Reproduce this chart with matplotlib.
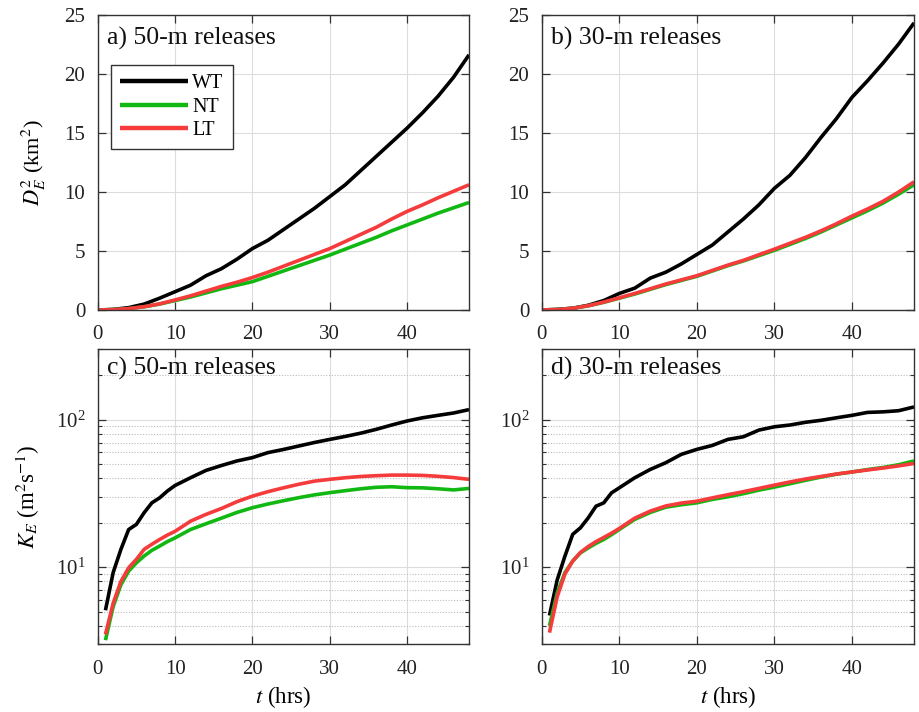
"""Relative dispersion and diffusivity for 50-m and 30-m releases."""

import matplotlib.pyplot as plt
from matplotlib.ticker import LogLocator, NullFormatter

plt.rcParams["font.family"] = ["Liberation Serif", "DejaVu Serif"]
plt.rcParams["mathtext.fontset"] = "stix"

# time axes (hrs)
t_disp = [0, 2, 4, 6, 8, 10, 12, 14, 16, 18, 20, 22, 24, 26, 28, 30, 32, 34, 36, 38, 40, 42, 44, 46, 48]
t_diff = [1, 2, 3, 4, 5, 6, 7, 8, 9, 10, 12, 14, 16, 18, 20, 22, 24, 26, 28, 30, 32, 34, 36, 38, 40, 42, 44, 46, 48]

# D_E^2 (km^2), 50-m releases
d50_wt = [0, 0.05, 0.2, 0.5, 1.0, 1.55, 2.1, 2.9, 3.5, 4.3, 5.2, 5.9, 6.8, 7.7, 8.6, 9.6, 10.6, 11.8, 13.0, 14.2, 15.4, 16.7, 18.1, 19.7, 21.6]
d50_nt = [0, 0.03, 0.12, 0.27, 0.5, 0.8, 1.1, 1.45, 1.8, 2.1, 2.4, 2.85, 3.3, 3.75, 4.2, 4.65, 5.15, 5.65, 6.15, 6.7, 7.2, 7.7, 8.2, 8.65, 9.1]
d50_lt = [0, 0.03, 0.12, 0.28, 0.52, 0.85, 1.2, 1.6, 2.0, 2.35, 2.75, 3.2, 3.7, 4.2, 4.7, 5.2, 5.8, 6.4, 7.0, 7.7, 8.35, 8.9, 9.5, 10.05, 10.6]

# D_E^2 (km^2), 30-m releases
d30_wt = [0, 0.05, 0.15, 0.4, 0.8, 1.4, 1.85, 2.7, 3.2, 3.9, 4.7, 5.5, 6.6, 7.7, 8.9, 10.3, 11.4, 12.9, 14.6, 16.2, 18.0, 19.4, 20.9, 22.5, 24.3]
d30_nt = [0, 0.04, 0.15, 0.35, 0.65, 1.0, 1.35, 1.75, 2.15, 2.5, 2.85, 3.3, 3.75, 4.15, 4.6, 5.05, 5.55, 6.05, 6.6, 7.2, 7.8, 8.4, 9.05, 9.8, 10.6]
d30_lt = [0, 0.04, 0.15, 0.36, 0.67, 1.03, 1.4, 1.8, 2.2, 2.55, 2.9, 3.35, 3.8, 4.2, 4.68, 5.15, 5.65, 6.15, 6.7, 7.3, 7.95, 8.55, 9.2, 9.98, 10.85]

# K_E (m^2 s^-1), 50-m releases
k50_wt = [5.1, 9.2, 13.2, 18.0, 19.5, 23.4, 27.3, 29.5, 32.8, 35.8, 40.4, 45.3, 48.9, 52.5, 55.3, 59.8, 62.8, 66.3, 70, 73.5, 77, 81, 86, 92, 98, 103, 107, 111, 117]
k50_nt = [3.2, 5.4, 7.6, 9.4, 10.7, 11.9, 13.0, 13.9, 14.9, 15.8, 18.0, 19.7, 21.5, 23.5, 25.3, 26.8, 28.2, 29.6, 30.9, 32.0, 33.0, 34.0, 34.8, 35.1, 34.6, 34.5, 34.0, 33.4, 34.2]
k50_lt = [3.5, 5.7, 8.0, 9.9, 11.3, 13.2, 14.3, 15.4, 16.5, 17.5, 20.5, 22.8, 25.0, 27.8, 30.3, 32.5, 34.5, 36.5, 38.3, 39.4, 40.4, 41.2, 41.7, 42.1, 42.1, 41.9, 41.3, 40.5, 39.4]

# K_E (m^2 s^-1), 30-m releases
k30_wt = [4.7, 8.2, 11.9, 16.7, 18.5, 21.6, 25.9, 27.3, 31.9, 34.5, 40.4, 46.0, 51.1, 58.2, 62.9, 66.9, 73.5, 76.6, 85, 89.5, 92, 96, 99, 103, 107, 112, 113, 115, 122]
k30_nt = [4.0, 6.7, 9.2, 11.0, 12.5, 13.5, 14.5, 15.4, 16.6, 18.0, 21.1, 23.5, 25.5, 26.5, 27.3, 28.8, 30.0, 31.5, 33.3, 34.9, 36.8, 38.8, 40.8, 42.7, 44.2, 45.9, 47.4, 49.5, 52.5]
k30_lt = [3.6, 6.3, 9.0, 11.0, 12.6, 13.8, 14.9, 15.9, 17.0, 18.3, 21.5, 24.0, 26.0, 27.2, 28.0, 29.5, 31.0, 32.5, 34.2, 36.0, 37.8, 39.6, 41.2, 42.8, 44.2, 45.6, 47.0, 48.6, 50.5]

labels = ["WT", "NT", "LT"]
colors = ["black", "#12b812", "#f53b3b"]
titles = ["a) 50-m releases", "b) 30-m releases", "c) 50-m releases", "d) 30-m releases"]

fig = plt.figure(figsize=(9.2, 7.12), dpi=100)
axes = [
    fig.add_axes([0.1062, 0.5646, 0.4036, 0.4148]),
    fig.add_axes([0.5888, 0.5646, 0.4047, 0.4148]),
    fig.add_axes([0.1062, 0.0951, 0.4036, 0.4143]),
    fig.add_axes([0.5888, 0.0951, 0.4047, 0.4143]),
]

panels = [
    (t_disp, [d50_wt, d50_nt, d50_lt]),
    (t_disp, [d30_wt, d30_nt, d30_lt]),
    (t_diff, [k50_wt, k50_nt, k50_lt]),
    (t_diff, [k30_wt, k30_nt, k30_lt]),
]

edge = "#333333"
for i, (ax, (t, series)) in enumerate(zip(axes, panels)):
    for y, lab, c in zip(series, labels, colors):
        ax.plot(t, y, color=c, lw=2.6, label=lab, solid_capstyle="butt")
    ax.set_xlim(0, 48)
    ax.set_xticks([0, 10, 20, 30, 40])
    if i < 2:
        ax.set_ylim(0, 25)
        ax.set_yticks([0, 5, 10, 15, 20, 25])
        ax.grid(True, which="major", color="#dddddd", lw=0.8)
    else:
        ax.set_yscale("log")
        ax.set_ylim(3, 300)
        ax.yaxis.set_major_locator(LogLocator(base=10, numticks=10))
        ax.yaxis.set_minor_locator(LogLocator(base=10, subs=range(2, 10), numticks=20))
        ax.yaxis.set_minor_formatter(NullFormatter())
        ax.grid(True, which="major", color="#dddddd", lw=0.8)
        ax.grid(True, which="minor", axis="y", color="#bbbbbb", lw=0.8, ls=(0, (1, 1.5)))
        ax.set_xlabel(r"$t$ (hrs)", fontsize=16.5, labelpad=4)
    ax.set_axisbelow(True)
    ax.tick_params(which="both", direction="in", top=True, right=True,
                   labelsize=15, colors=edge, labelcolor="#222222")
    ax.tick_params(which="major", length=6, width=0.9)
    ax.tick_params(which="minor", length=3, width=0.8)
    ax.tick_params(axis="x", which="major", pad=11)
    ax.tick_params(axis="y", which="major", pad=9)
    for s in ax.spines.values():
        s.set_color(edge)
        s.set_linewidth(1.0)
    ty = 0.918 if i < 2 else 0.935
    ax.text(0.024, ty, titles[i], transform=ax.transAxes, fontsize=18.5,
            va="center", ha="left", color="#111111")

axes[0].set_ylabel(r"$D_E^2$ (km$^2$)", fontsize=16, labelpad=12)
axes[2].set_ylabel(r"$K_E$ (m$^2$s$^{-1}$)", fontsize=16.5, labelpad=10)

leg = axes[0].legend(loc="upper left", bbox_to_anchor=(0.035, 0.83), fontsize=14.5,
                     handlelength=3.4, handletextpad=0.2, borderpad=0.45,
                     labelspacing=0.22, fancybox=False, framealpha=1,
                     edgecolor=edge, borderaxespad=0)
leg.get_frame().set_linewidth(1.0)
for h in leg.get_lines():
    h.set_linewidth(3.2)

fig.savefig("out.png", dpi=100)
